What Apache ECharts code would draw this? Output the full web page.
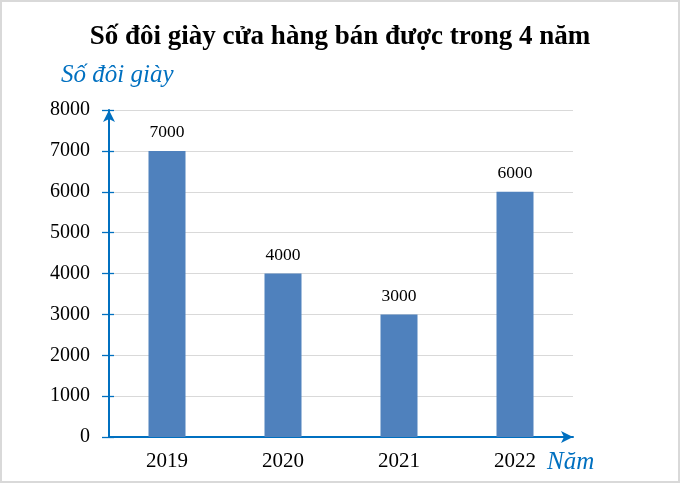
<!DOCTYPE html>
<html><head><meta charset="utf-8">
<script src="https://cdn.jsdelivr.net/npm/echarts@6/dist/echarts.min.js"></script>
<style>
html,body{margin:0;padding:0;background:#fff;}
#c{width:680px;height:483px;box-sizing:border-box;border:2px solid #d9d9d9;}
</style></head>
<body><div id="c"></div>
<script>
const categories = ['2019', '2020', '2021', '2022'];
const values = [7000, 4000, 3000, 6000];
const titleText = 'Số đôi giày cửa hàng bán được trong 4 năm';
const yName = 'Số đôi giày';
const xName = 'Năm';

const serif = '"Liberation Serif", "Times New Roman", serif';
const blue = '#0070C0';
const chart = echarts.init(document.getElementById('c'), null, {renderer: 'canvas'});
chart.setOption({
  animation: false,
  title: {
    text: titleText, left: 'center', top: 17,
    textStyle: {fontFamily: serif, fontWeight: 'bold', fontSize: 27, color: '#000'}
  },
  graphic: [
    {type: 'text', left: 59, top: 61, style: {text: yName, font: 'italic 25px ' + serif, fill: blue}},
    {type: 'text', left: 545, top: 448, style: {text: xName, font: 'italic 25px ' + serif, fill: blue}}
  ],
  grid: {left: 107, right: 105, top: 108, bottom: 44, containLabel: false},
  xAxis: {
    type: 'category', data: categories,
    axisLine: {lineStyle: {color: blue, width: 2}, symbol: ['none', 'arrow'], symbolSize: [9, 12]},
    axisTick: {show: false},
    axisLabel: {fontFamily: serif, fontSize: 21, color: '#000', margin: 14}
  },
  yAxis: [{
    type: 'value', min: 0, max: 8000, interval: 1000,
    axisLine: {show: true, lineStyle: {color: blue, width: 2}, symbol: ['none', 'arrow'], symbolSize: [9, 12]},
    axisTick: {show: true, length: 7, lineStyle: {color: blue, width: 1.3}},
    axisLabel: {fontFamily: serif, fontSize: 20, color: '#000', margin: 19, formatter: v => String(v)},
    splitLine: {lineStyle: {color: '#d9d9d9', width: 1}}
  }, {
    type: 'value', min: 0, max: 8000, interval: 1000, position: 'left', offset: 0,
    axisLine: {show: false},
    axisTick: {show: true, inside: true, length: 5, lineStyle: {color: blue, width: 1.3}},
    axisLabel: {show: false},
    splitLine: {show: false}
  }],
  series: [{
    type: 'bar', data: values, barWidth: 37,
    itemStyle: {color: '#4F81BD'},
    label: {show: true, position: 'top', distance: 9, fontFamily: serif, fontSize: 17.5, color: '#000'}
  }]
});
</script>
</body></html>
